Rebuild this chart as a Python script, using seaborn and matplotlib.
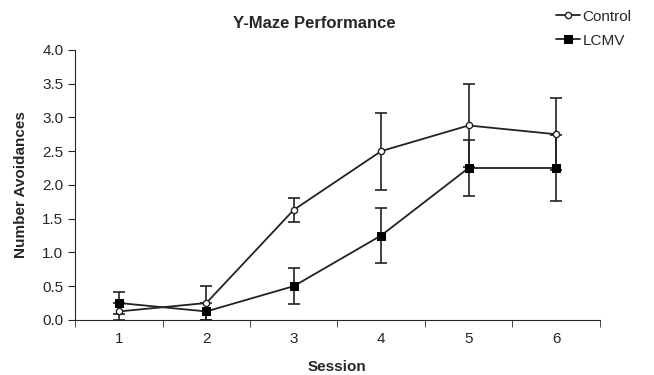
import numpy as np
import pandas as pd
import seaborn as sns
import matplotlib.pyplot as plt

sessions = [1, 2, 3, 4, 5, 6]
control = [0.125, 0.25, 1.63, 2.5, 2.88, 2.75]
control_err = [0.125, 0.25, 0.18, 0.57, 0.61, 0.53]
lcmv = [0.25, 0.125, 0.5, 1.25, 2.25, 2.25]
lcmv_err = [0.17, 0.125, 0.27, 0.41, 0.41, 0.49]

df = pd.DataFrame({
    'Session': sessions * 2,
    'Avoidances': control + lcmv,
    'Group': ['Control'] * 6 + ['LCMV'] * 6,
})

sns.set_style('ticks')
plt.rcParams['font.family'] = ['Liberation Sans', 'DejaVu Sans']

fig = plt.figure(figsize=(6.54, 3.75), dpi=100)
ax = fig.add_axes([0.115, 0.147, 0.802, 0.72])

# error bars first, lines on top
ax.errorbar(sessions, control, yerr=control_err, fmt='none', ecolor='#222222',
            elinewidth=1.2, capsize=4, capthick=1.2, zorder=1)
ax.errorbar(sessions, lcmv, yerr=lcmv_err, fmt='none', ecolor='#222222',
            elinewidth=1.2, capsize=4, capthick=1.2, zorder=1)

sns.lineplot(data=df[df.Group == 'Control'], x='Session', y='Avoidances', ax=ax,
             color='#222222', lw=1.3, marker='o', markersize=4.5,
             markerfacecolor='white', markeredgecolor='#222222', markeredgewidth=1,
             label='Control', zorder=3)
sns.lineplot(data=df[df.Group == 'LCMV'], x='Session', y='Avoidances', ax=ax,
             color='#222222', lw=1.3, marker='s', markersize=5.5,
             markerfacecolor='black', markeredgecolor='black',
             label='LCMV', zorder=3)

ax.set_xlim(0.5, 6.5)
ax.set_ylim(0, 4.0)
ax.set_yticks(np.arange(0, 4.01, 0.5))
ax.set_yticklabels([f'{v:.1f}' for v in np.arange(0, 4.01, 0.5)])
ax.set_xticks(sessions)
ax.set_xticklabels([str(s) for s in sessions])
ax.tick_params(axis='x', which='major', length=0, pad=9)
ax.set_xticks(np.arange(0.5, 6.6, 1), minor=True)
ax.tick_params(axis='x', which='minor', length=5, direction='out')
ax.tick_params(axis='y', length=5, direction='out', labelsize=11)
ax.tick_params(axis='x', labelsize=11)
sns.despine(ax=ax)

ax.set_xlabel('Session', fontweight='bold', fontsize=11, labelpad=10)
ax.set_ylabel('Number Avoidances', fontweight='bold', fontsize=11, labelpad=10)
fig.text(0.48, 0.925, 'Y-Maze Performance', ha='center', fontweight='bold', fontsize=12)

ax.legend(loc='upper left', bbox_to_anchor=(0.89, 1.2), frameon=False,
          fontsize=11, handlelength=1.6, handletextpad=0.15, labelspacing=0.65)

fig.savefig('out.png', dpi=100)
